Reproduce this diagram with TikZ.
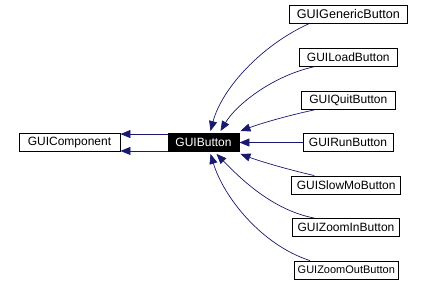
\documentclass[tikz,border=0pt]{standalone}
\usepackage{fontspec}
\setmainfont{Liberation Sans}
\usetikzlibrary{arrows.meta}
\definecolor{edgeblue}{HTML}{191970}
\begin{document}
\begin{tikzpicture}[x=1pt,y=-1pt,
  box/.style={draw=black,line width=0.9pt,fill=white,minimum height=18pt,inner sep=0pt,font=\fontsize{12}{14}\selectfont},
  edge/.style={draw=edgeblue,line width=0.7pt,-{Triangle[length=10pt,width=8pt]}}]
\useasboundingbox (0,0) rectangle (425,286);
\node[box,minimum width=101pt] (comp) at (69.5,142.5) {GUIComponent};
\node[box,fill=black,text=white,minimum width=71pt] (btn) at (203.5,142.5) {GUIButton};
\node[box,minimum width=118pt,font=\fontsize{12.6}{14}\selectfont] (gen) at (348.3,14.3) {GUIGenericButton};
\node[box,minimum width=98.7pt] (load) at (348.3,57.2) {GUILoadButton};
\node[box,minimum width=93.3pt] (quit) at (348.3,100.5) {GUIQuitButton};
\node[box,minimum width=90pt] (run) at (348,142.5) {GUIRunButton};
\node[box,minimum width=109pt] (slow) at (346.2,185) {GUISlowMoButton};
\node[box,minimum width=106.6pt] (zin) at (346,227.5) {GUIZoomInButton};
\node[box,minimum width=104pt,font=\fontsize{11}{13}\selectfont] (zout) at (346.3,270) {GUIZoomOutButton};
% inheritance to GUIComponent
\draw[edge] ([yshift=-1pt]btn.north west) -- ([yshift=-1pt]comp.north east);
\draw[edge] ([yshift=1pt]btn.south west) -- ([yshift=1pt]comp.south east);
% children to GUIButton
\draw[edge] ([xshift=20pt]gen.south west) .. controls (262,45) and (222,88) .. ([xshift=7pt,yshift=2pt]btn.north);
\draw[edge] ([xshift=16pt]load.south west) .. controls (272,76) and (236,105) .. ([xshift=17pt,yshift=2pt]btn.north);
\draw[edge] ([xshift=13pt]quit.south west) .. controls (290,115) and (262,123) .. ([xshift=1pt,yshift=2pt]btn.north east);
\draw[edge] (run.west) -- (btn.east);
\draw[edge] ([xshift=23pt]slow.north west) .. controls (290,170) and (262,162) .. ([xshift=1pt,yshift=-2pt]btn.south east);
\draw[edge] ([xshift=22pt]zin.north west) .. controls (272,210) and (240,178) .. ([xshift=13pt,yshift=-2pt]btn.south);
\draw[edge] ([xshift=16pt]zout.north west) .. controls (262,245) and (224,198) .. ([xshift=7pt,yshift=-2pt]btn.south);
\end{tikzpicture}
\end{document}
